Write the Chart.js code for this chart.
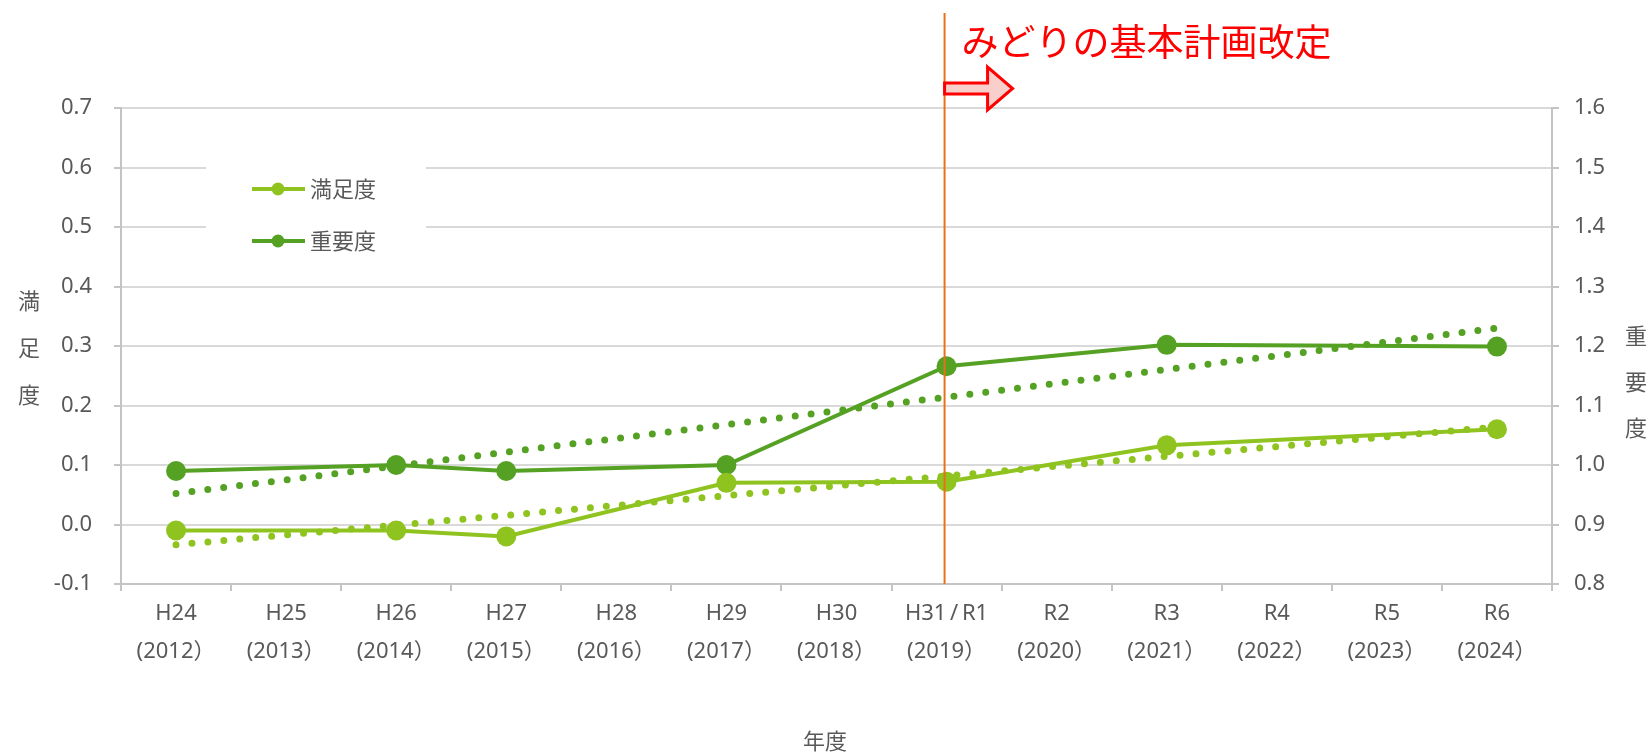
<!DOCTYPE html>
<html lang="ja">
<head>
<meta charset="utf-8">
<script src="https://cdn.jsdelivr.net/npm/chart.js@4.4.1/dist/chart.umd.min.js"></script>
<style>
  body { margin: 0; background: #fff; }
  #grafico { display: block; }
</style>
</head>
<body>
<canvas id="grafico" width="1652" height="754"></canvas>
<script>
// categorias del eje x
const nendo = ['H24', 'H25', 'H26', 'H27', 'H28', 'H29', 'H30', 'H31\u2009/\u2009R1', 'R2', 'R3', 'R4', 'R5', 'R6'];
const seireki = ['(2012）', '(2013）', '(2014）', '(2015）', '(2016）', '(2017）', '(2018）', '(2019）', '(2020）', '(2021）', '(2022）', '(2023）', '(2024）'];

// series (null = sin encuesta ese año)
const manzokudo = [-0.01, null, -0.01, -0.02, null, 0.07, null, 0.072, null, 0.133, null, null, 0.16];
const juyodo = [0.99, null, 1.00, 0.99, null, 1.00, null, 1.166, null, 1.202, null, null, 1.199];

// lineas de tendencia (extremos)
const manzokudoTrend = [-0.034, null, null, null, null, null, null, null, null, null, null, null, 0.164];
const juyodoTrend = [0.952, null, null, null, null, null, null, null, null, null, null, null, 1.23];

const rangoIzq = { min: -0.1, max: 0.7, paso: 0.1 };
const rangoDer = { min: 0.8, max: 1.6, paso: 0.1 };

const tituloIzq = ['満', '足', '度'];
const tituloDer = ['重', '要', '度'];
const tituloX = '年度';
const textoPlan = 'みどりの基本計画改定';
const indicePlan = 7;

const verdeClaro = '#8FC31F';
const verdeOscuro = '#55A123';
const gris = '#595959';
const FUENTE = "'Noto Sans', 'Noto Sans CJK JP', sans-serif";
const FUENTE_JP = "'Noto Sans CJK JP', 'Noto Sans', sans-serif";

const labels = nendo.map((n, i) => [n, seireki[i]]);

const formatear = (v) => (Math.abs(v) < 1e-9 ? 0 : v).toFixed(1);

const decoraciones = {
  id: 'decoraciones',
  afterDraw(chart) {
    const ctx = chart.ctx;
    const area = chart.chartArea;
    const xs = chart.scales.x;

    ctx.save();

    // leyenda
    ctx.fillStyle = '#fff';
    ctx.fillRect(206, 128, 220, 138);
    const items = [
      { texto: '満足度', color: verdeClaro, y: 189 },
      { texto: '重要度', color: verdeOscuro, y: 241 },
    ];
    items.forEach((it) => {
      ctx.strokeStyle = it.color;
      ctx.lineWidth = 4;
      ctx.beginPath();
      ctx.moveTo(252, it.y);
      ctx.lineTo(305, it.y);
      ctx.stroke();
      ctx.fillStyle = it.color;
      ctx.beginPath();
      ctx.arc(278, it.y, 6.5, 0, Math.PI * 2);
      ctx.fill();
      ctx.fillStyle = gris;
      ctx.font = '22px ' + FUENTE_JP;
      ctx.textAlign = 'left';
      ctx.textBaseline = 'middle';
      ctx.fillText(it.texto, 310, it.y);
    });

    // titulos de ejes
    ctx.fillStyle = gris;
    ctx.font = '22px ' + FUENTE_JP;
    ctx.textAlign = 'center';
    ctx.textBaseline = 'middle';
    tituloIzq.forEach((c, i) => ctx.fillText(c, 29, 301 + i * 47));
    tituloDer.forEach((c, i) => ctx.fillText(c, 1636, 336 + i * 46));
    ctx.fillText(tituloX, 825, 741);

    // linea vertical del plan
    const lx = xs.getPixelForValue(indicePlan) - 2;
    ctx.strokeStyle = '#E8701A';
    ctx.lineWidth = 2;
    ctx.beginPath();
    ctx.moveTo(lx, 13);
    ctx.lineTo(lx, area.bottom);
    ctx.stroke();

    // flecha
    ctx.beginPath();
    ctx.moveTo(lx, 83);
    ctx.lineTo(lx + 43, 83);
    ctx.lineTo(lx + 43, 67);
    ctx.lineTo(lx + 68, 88.5);
    ctx.lineTo(lx + 43, 110);
    ctx.lineTo(lx + 43, 94);
    ctx.lineTo(lx, 94);
    ctx.closePath();
    ctx.fillStyle = '#F8CFCB';
    ctx.fill();
    ctx.strokeStyle = '#FF0000';
    ctx.lineWidth = 3;
    ctx.lineJoin = 'miter';
    ctx.stroke();

    // texto del plan
    ctx.fillStyle = '#FF0000';
    ctx.font = '37px ' + FUENTE_JP;
    ctx.textAlign = 'left';
    ctx.textBaseline = 'middle';
    ctx.fillText(textoPlan, lx + 17, 42);

    ctx.restore();
  }
};

Chart.defaults.font.family = FUENTE;
Chart.defaults.color = gris;

new Chart(document.getElementById('grafico'), {
  type: 'line',
  data: {
    labels,
    datasets: [
      {
        label: '満足度 (傾向)',
        data: manzokudoTrend,
        yAxisID: 'y',
        borderColor: verdeClaro,
        borderWidth: 7,
        borderDash: [0, 16],
        borderCapStyle: 'round',
        pointRadius: 0,
        spanGaps: true,
        order: 0,
      },
      {
        label: '重要度 (傾向)',
        data: juyodoTrend,
        yAxisID: 'y1',
        borderColor: verdeOscuro,
        borderWidth: 7,
        borderDash: [0, 16],
        borderCapStyle: 'round',
        pointRadius: 0,
        spanGaps: true,
        order: 0,
      },
      {
        label: '満足度',
        data: manzokudo,
        yAxisID: 'y',
        borderColor: verdeClaro,
        backgroundColor: verdeClaro,
        borderWidth: 4,
        pointRadius: 10,
        pointBorderWidth: 0,
        spanGaps: true,
        order: 1,
      },
      {
        label: '重要度',
        data: juyodo,
        yAxisID: 'y1',
        borderColor: verdeOscuro,
        backgroundColor: verdeOscuro,
        borderWidth: 4,
        pointRadius: 10,
        pointBorderWidth: 0,
        spanGaps: true,
        order: 1,
      },
    ],
  },
  options: {
    responsive: false,
    devicePixelRatio: 1,
    animation: false,
    layout: { padding: { top: 108, left: 0, right: 0, bottom: 0 } },
    plugins: {
      legend: { display: false },
      tooltip: { enabled: false },
    },
    scales: {
      x: {
        offset: true,
        grid: {
          offset: true,
          drawOnChartArea: false,
          drawTicks: true,
          tickLength: 7,
          tickColor: '#c4c4c4',
          lineWidth: 2,
        },
        border: { color: '#c4c4c4', width: 2 },
        ticks: {
          font: { size: 22, lineHeight: 1.72 },
          padding: 4,
          maxRotation: 0,
          autoSkip: false,
          color: gris,
        },
        afterFit: (s) => { s.height = 170; },
      },
      y: {
        position: 'left',
        min: rangoIzq.min,
        max: rangoIzq.max,
        grid: {
          color: '#d9d9d9',
          lineWidth: 2,
          tickLength: 7,
          tickColor: '#c4c4c4',
        },
        border: { color: '#c4c4c4', width: 2 },
        ticks: {
          stepSize: rangoIzq.paso,
          font: { size: 22 },
          padding: 22,
          color: gris,
          callback: (v) => formatear(v),
        },
        afterFit: (s) => { s.width = 121; },
      },
      y1: {
        position: 'right',
        min: rangoDer.min,
        max: rangoDer.max,
        grid: {
          drawOnChartArea: false,
          tickLength: 7,
          tickColor: '#c4c4c4',
          lineWidth: 2,
        },
        border: { color: '#c4c4c4', width: 2 },
        ticks: {
          stepSize: rangoDer.paso,
          font: { size: 22 },
          padding: 15,
          color: gris,
          callback: (v) => formatear(v),
        },
        afterFit: (s) => { s.width = 100; },
      },
    },
  },
  plugins: [decoraciones],
});
</script>
</body>
</html>
